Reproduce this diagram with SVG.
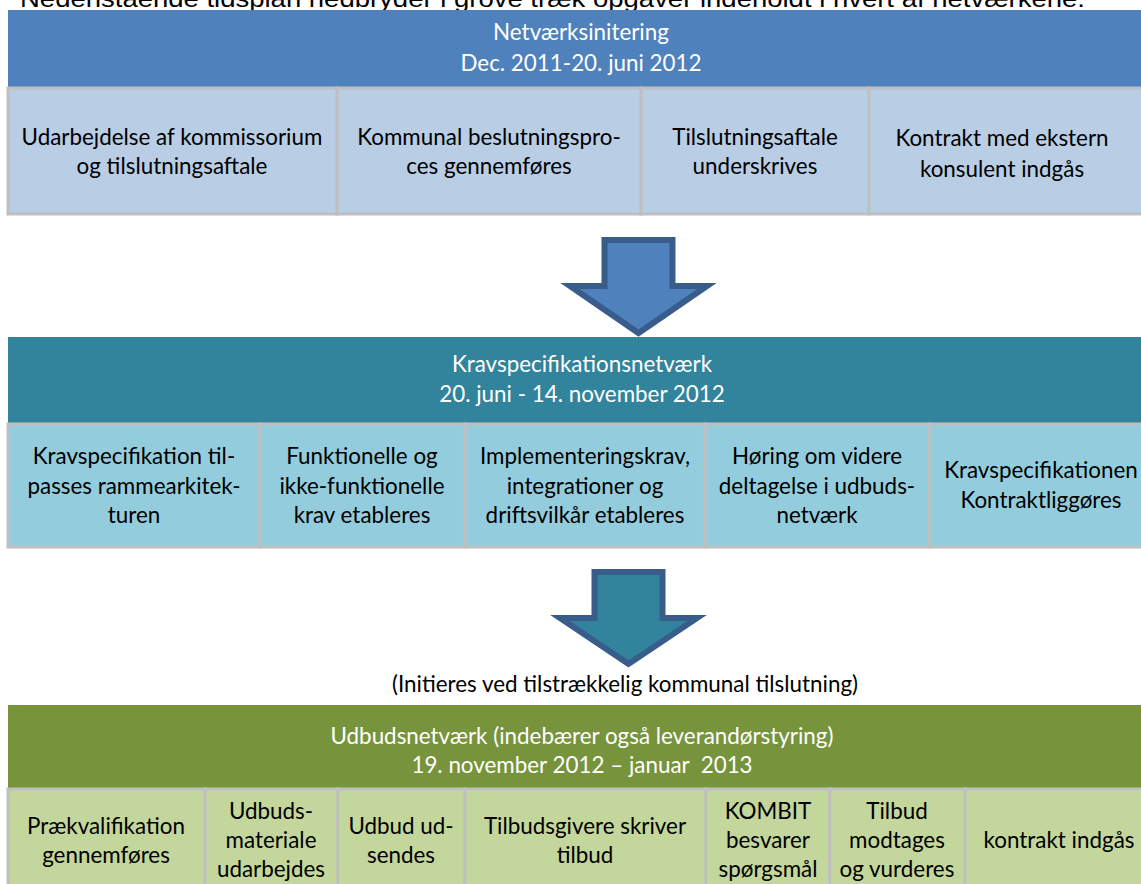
<svg xmlns="http://www.w3.org/2000/svg" width="1141" height="884" viewBox="0 0 1141 884">
<style>
  .intro { font-family: "Liberation Sans", Arial, sans-serif; font-size: 24px; fill: #000; }
  .t { font-family: Lato, "Open Sans", sans-serif; font-size: 22.4px; fill: #000; text-anchor: middle; }
  .h { font-family: Lato, "Open Sans", sans-serif; font-size: 22.4px; fill: #fff; text-anchor: middle; }
  .b1 { fill: #4F81BD; }
  .b2 { fill: #31849B; }
  .b3 { fill: #77933C; }
  .c1 { fill: #B9CDE5; stroke: #BFBFBF; stroke-width: 3; }
  .c2 { fill: #93CDDD; stroke: #BFBFBF; stroke-width: 3; }
  .c3 { fill: #C3D69B; stroke: #BFBFBF; stroke-width: 3; }
  .arrow { stroke: #385D8A; stroke-width: 6; stroke-linejoin: miter; }
</style>
<rect width="1141" height="884" fill="#fff"/>
<text class="intro" x="20" y="7" textLength="1065" lengthAdjust="spacingAndGlyphs">Nedenstående tidsplan nedbryder i grove træk opgaver indeholdt i hvert af netværkene.</text>

<g id="banner-netvaerksinitering">
  <rect class="b1" x="8" y="10" width="1140" height="77"/>
  <text class="h" x="581" y="40">Netværksinitering</text>
  <text class="h" x="581" y="71">Dec. 2011-20. juni 2012</text>
</g>
<g id="n1-1"><rect class="c1" x="8" y="88" width="329" height="126"/>
  <text class="t" x="172" y="145">Udarbejdelse af kommissorium</text>
  <text class="t" x="172" y="174">og tilslutningsaftale</text></g>
<g id="n1-2"><rect class="c1" x="337" y="88" width="304" height="126"/>
  <text class="t" x="489" y="145">Kommunal beslutningspro-</text>
  <text class="t" x="489" y="174">ces gennemføres</text></g>
<g id="n1-3"><rect class="c1" x="641" y="88" width="228" height="126"/>
  <text class="t" x="755" y="145">Tilslutningsaftale</text>
  <text class="t" x="755" y="174">underskrives</text></g>
<g id="n1-4"><rect class="c1" x="869" y="88" width="290" height="126"/>
  <text class="t" x="1002" y="146">Kontrakt med ekstern</text>
  <text class="t" x="1002" y="177">konsulent indgås</text></g>

<g id="banner-kravspec">
  <rect class="b2" x="8" y="337" width="1140" height="86"/>
  <text class="h" x="582" y="372">Kravspecifikationsnetværk</text>
  <text class="h" x="582" y="402">20. juni - 14. november 2012</text>
</g>
<g id="n2-1"><rect class="c2" x="8" y="424" width="252" height="123"/>
  <text class="t" x="134" y="464">Kravspecifikation til-</text>
  <text class="t" x="134" y="494">passes rammearkitek-</text>
  <text class="t" x="134" y="523">turen</text></g>
<g id="n2-2"><rect class="c2" x="260" y="424" width="205" height="123"/>
  <text class="t" x="362" y="464">Funktionelle og</text>
  <text class="t" x="362" y="494">ikke-funktionelle</text>
  <text class="t" x="362" y="523">krav etableres</text></g>
<g id="n2-3"><rect class="c2" x="465" y="424" width="240" height="123"/>
  <text class="t" x="585" y="464">Implementeringskrav,</text>
  <text class="t" x="585" y="494">integrationer og</text>
  <text class="t" x="585" y="523">driftsvilkår etableres</text></g>
<g id="n2-4"><rect class="c2" x="705" y="424" width="225" height="123"/>
  <text class="t" x="817" y="464">Høring om videre</text>
  <text class="t" x="817" y="494">deltagelse i udbuds-</text>
  <text class="t" x="817" y="523">netværk</text></g>
<g id="n2-5"><rect class="c2" x="930" y="424" width="230" height="123"/>
  <text class="t" x="1041" y="478">Kravspecifikationen</text>
  <text class="t" x="1041" y="508">Kontraktliggøres</text></g>

<text class="t" x="625" y="692">(Initieres ved tilstrækkelig kommunal tilslutning)</text>

<g id="banner-udbud">
  <rect class="b3" x="8" y="705" width="1140" height="83"/>
  <text class="h" x="582" y="744">Udbudsnetværk (indebærer også leverandørstyring)</text>
  <text class="h" x="582" y="773" xml:space="preserve">19. november 2012 – januar  2013</text>
</g>
<g id="n3-1"><rect class="c3" x="8" y="789" width="197" height="110"/>
  <text class="t" x="106" y="834">Prækvalifikation</text>
  <text class="t" x="106" y="863">gennemføres</text></g>
<g id="n3-2"><rect class="c3" x="205" y="789" width="133" height="110"/>
  <text class="t" x="271" y="819">Udbuds-</text>
  <text class="t" x="271" y="848">materiale</text>
  <text class="t" x="271" y="877">udarbejdes</text></g>
<g id="n3-3"><rect class="c3" x="338" y="789" width="127" height="110"/>
  <text class="t" x="401" y="834">Udbud ud-</text>
  <text class="t" x="401" y="863">sendes</text></g>
<g id="n3-4"><rect class="c3" x="465" y="789" width="241" height="110"/>
  <text class="t" x="585" y="834">Tilbudsgivere skriver</text>
  <text class="t" x="585" y="863">tilbud</text></g>
<g id="n3-5"><rect class="c3" x="706" y="789" width="124" height="110"/>
  <text class="t" x="768" y="819">KOMBIT</text>
  <text class="t" x="768" y="848">besvarer</text>
  <text class="t" x="768" y="877">spørgsmål</text></g>
<g id="n3-6"><rect class="c3" x="830" y="789" width="135" height="110"/>
  <text class="t" x="897" y="819">Tilbud</text>
  <text class="t" x="897" y="848">modtages</text>
  <text class="t" x="897" y="877">og vurderes</text></g>
<g id="n3-7"><rect class="c3" x="965" y="789" width="200" height="110"/>
  <text class="t" x="1059" y="848">kontrakt indgås</text></g>

<g id="connectors">
  <path class="arrow" fill="#4F81BD" d="M604.5,240 H672.5 V286 H707 L638.5,333 L570,286 H604.5 Z"/>
  <path class="arrow" fill="#31849B" d="M594.5,572 H662.5 V618 H697 L628.5,664 L560,618 H594.5 Z"/>
</g>
</svg>
